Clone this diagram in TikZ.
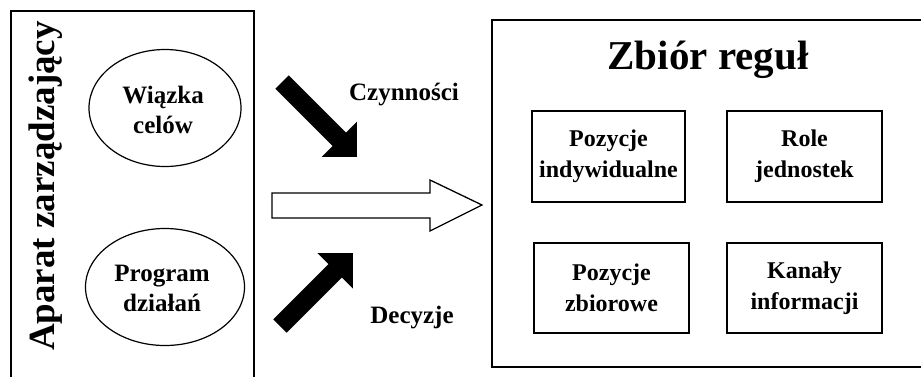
\documentclass[tikz,border=0pt]{standalone}
\usepackage{fontspec}
\setmainfont{Liberation Serif}
\usetikzlibrary{shapes.geometric}
\begin{document}
\begin{tikzpicture}[x=1pt,y=1pt,
  txt/.style={font=\bfseries\fontsize{25}{30}\selectfont, align=center, inner sep=0pt},
  oval/.style={draw, line width=1.2pt, ellipse, inner sep=0pt},
  rulebox/.style={draw, line width=1.8pt, rectangle, inner sep=0pt,
    font=\bfseries\fontsize{24}{31}\selectfont, align=center},
  frame/.style={draw, line width=1.5pt},
  fatarrow/.style={fill=black},
  hollowarrow/.style={draw, line width=1.3pt, fill=white}
]
\useasboundingbox (0,0) rectangle (921,-376);
\clip (0,0) rectangle (921,-376);

% management apparatus (left frame)
\draw[frame] (11,-11) rectangle (254,-390);
\node[rotate=90, font=\bfseries\fontsize{37}{40}\selectfont, inner sep=0pt]
  (aparat) at (46,-186) {Aparat zarządzający};
\node[oval, minimum width=152, minimum height=117] (wiazka) at (165,-108) {};
\node[txt] at (163,-110) {Wiązka\\celów};
\node[oval, minimum width=159, minimum height=117] (program) at (165,-287) {};
\node[txt] at (162,-288) {Program\\działań};

% set of rules (right frame)
\draw[frame] (492,-20) rectangle (940,-367);
\node[font=\bfseries\fontsize{41}{44}\selectfont, inner sep=0pt] (zbior) at (708,-60) {Zbiór reguł};
\node[rulebox, minimum width=153, minimum height=91] (pi) at (608.5,-156.5) {Pozycje\\indywidualne};
\node[rulebox, minimum width=155, minimum height=91] (rj) at (804.5,-156.5) {Role\\jednostek};
\node[rulebox, minimum width=155, minimum height=90] (pz) at (611.5,-288) {Pozycje\\zbiorowe};
\node[rulebox, minimum width=155, minimum height=90] (ki) at (804.5,-288) {Kanały\\informacji};

% activities and decisions arrows
\begin{scope}[shift={(282,-82)}, rotate=-45]
  \fill[fatarrow] (0,-9.5) -- (81,-9.5) -- (81,-25) -- (106,0) -- (81,25) -- (81,9.5) -- (0,9.5) -- cycle;
\end{scope}
\node[txt] (czyn) at (404,-95) {Czynności};
\begin{scope}[shift={(280,-326)}, rotate=45]
  \fill[fatarrow] (0,-9.5) -- (78,-9.5) -- (78,-25) -- (103,0) -- (78,25) -- (78,9.5) -- (0,9.5) -- cycle;
\end{scope}
\node[txt] (dec) at (412,-318) {Decyzje};

% main flow arrow
\draw[hollowarrow] (272,-193) -- (430,-193) -- (430,-180) -- (482,-205) -- (430,-231) -- (430,-218) -- (272,-218) -- cycle;
\end{tikzpicture}
\end{document}
